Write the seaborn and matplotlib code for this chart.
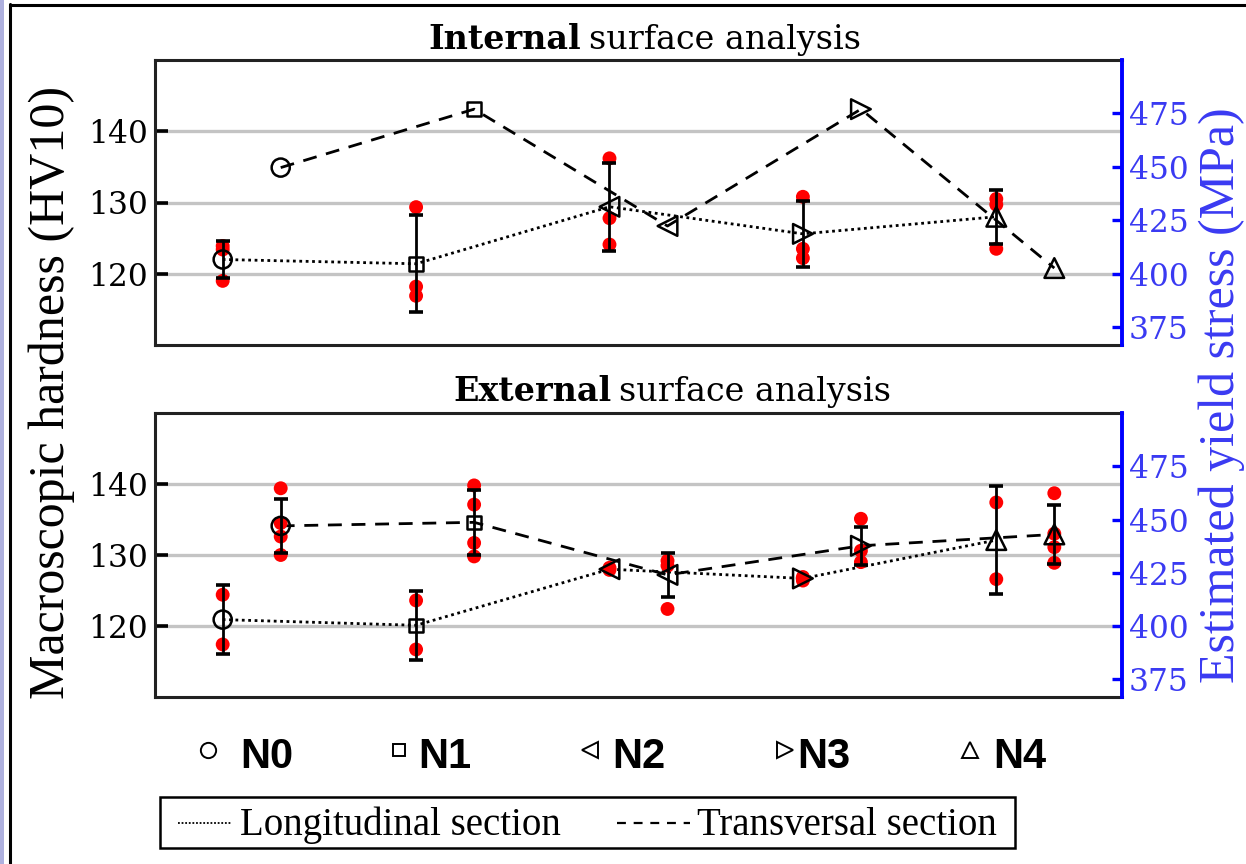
import numpy as np
import pandas as pd
import matplotlib
matplotlib.use("Agg")
import matplotlib.pyplot as plt
import seaborn as sns
from matplotlib.lines import Line2D
from matplotlib.patches import Rectangle

# ---------------- data ----------------
categories = ["N0", "N1", "N2", "N3", "N4"]
marker_shapes = ["o", "s", "<", ">", "^"]
hv_ticks = [120, 130, 140]
mpa_ticks = [375, 400, 425, 450, 475]

# Internal surface
int_long_mean = [122.0, 121.4, 129.4, 125.6, 128.0]
int_long_err = [2.65, 6.8, 6.15, 4.6, 3.8]
int_long_dots = [[123.9, 123.4, 119.0], [129.35, 118.2, 116.9], [136.2, 127.8, 124.1],
                 [130.8, 123.5, 122.2], [130.5, 129.7, 123.5]]
int_trans_mean = [134.9, 143.1, 126.7, 143.1, 120.8]

# External surface
ext_long_mean = [120.9, 120.1, 128.0, 126.7, 132.1]
ext_long_err = [4.9, 4.85, np.nan, np.nan, 7.55]
ext_long_dots = [[124.4, 117.4], [123.6, 116.7], [128.2, 127.9], [126.9, 126.4], [137.4, 126.6]]
ext_trans_mean = [134.1, 134.6, 127.2, 131.3, 132.9]
ext_trans_err = [3.85, 4.6, 3.15, 2.7, 4.1]
ext_trans_dots = [[139.4, 134.5, 132.6, 130.0], [139.8, 137.1, 131.7, 129.8], [129.2, 128.5, 122.4],
                  [135.1, 130.6, 129.0], [138.7, 133.0, 131.1, 128.9]]

# ---------------- style ----------------
sns.set_theme(style="white")
plt.rcParams["font.family"] = ["DejaVu Serif"]
plt.rcParams["text.color"] = "black"
plt.rcParams["ytick.color"] = "black"
plt.rcParams["axes.labelcolor"] = "black"

W, H = 1246, 864
fig = plt.figure(figsize=(W / 100, H / 100), dpi=100)
fig.patch.set_facecolor("white")

BLUE = "#0000ff"
TBLUE = "#3a3af2"
mk_map = dict(zip(categories, marker_shapes))
size_map = {"N0": 170, "N1": 95, "N2": 200, "N3": 200, "N4": 200}

LONG_LS = (0, (1, 1.3))
TRANS_LS = (0, (5, 3.5))
LABEL_FAM = ["Liberation Serif", "DejaVu Serif"]


def draw_panel(ax, long_mean, long_err, long_dots, trans_mean, trans_err, trans_dots):
    xl = np.arange(len(categories), dtype=float)
    xt = xl + 0.3
    # lines
    sns.lineplot(x=xl, y=long_mean, ax=ax, color="black", lw=2.0, linestyle=LONG_LS,
                 sort=False, estimator=None, zorder=2)
    sns.lineplot(x=xt, y=trans_mean, ax=ax, color="black", lw=2.0, linestyle=TRANS_LS,
                 sort=False, estimator=None, zorder=2)
    # red measurement dots
    rows = []
    for i, d in enumerate(long_dots or []):
        for v in d:
            rows.append((xl[i], v))
    for i, d in enumerate(trans_dots or []):
        for v in d:
            rows.append((xt[i], v))
    if rows:
        dd = pd.DataFrame(rows, columns=["x", "y"])
        sns.scatterplot(data=dd, x="x", y="y", ax=ax, color="#ff0000", s=100,
                        edgecolor="none", linewidth=0, zorder=3, legend=False)
    # error bars
    for xs, m, e in ((xl, long_mean, long_err), (xt, trans_mean, trans_err)):
        if e is None:
            continue
        e = np.asarray(e, dtype=float)
        ok = ~np.isnan(e)
        ax.errorbar(np.asarray(xs)[ok], np.asarray(m)[ok], yerr=e[ok], fmt="none",
                    ecolor="black", elinewidth=2.0, capsize=5, capthick=2.6, zorder=4)
    # open markers
    mdf = pd.DataFrame({"x": np.concatenate([xl, xt]),
                        "y": list(long_mean) + list(trans_mean),
                        "cat": categories + categories})
    sns.scatterplot(data=mdf, x="x", y="y", style="cat", markers=mk_map, size="cat",
                    sizes=size_map, ax=ax, legend=False, zorder=5, linewidth=1.8,
                    edgecolor="black", color="black")
    coll = ax.collections[-1]
    coll.set_facecolor("none")
    coll.set_edgecolor("black")
    coll.set_linewidth(1.8)

    ax.set_xlim(-0.35, 4.65)
    ax.set_ylim(110, 150)
    ax.set_yticks(hv_ticks)
    ax.set_xticks([])
    ax.set_xlabel("")
    ax.set_ylabel("")
    ax.grid(axis="y", color="#c4c4c4", lw=2.4, zorder=0)
    ax.set_axisbelow(True)
    ax.tick_params(axis="y", direction="in", length=9, width=2.6, color="black",
                   labelcolor="black", labelsize=22.5, pad=5, left=True)
    for s in ["left", "top", "bottom", "right"]:
        ax.spines[s].set_color("#222222")
        ax.spines[s].set_linewidth(2.2)
    ax.spines["right"].set_visible(False)

    ax2 = ax.twinx()
    ax2.set_ylim(110 * 10 / 3, 150 * 10 / 3)
    ax2.set_yticks(mpa_ticks)
    ax2.tick_params(axis="y", direction="in", length=7, width=2.4, color=BLUE,
                    labelcolor=TBLUE, labelsize=22.5, pad=5)
    for s in ["left", "top", "bottom"]:
        ax2.spines[s].set_visible(False)
    ax2.spines["right"].set_color(BLUE)
    ax2.spines["right"].set_linewidth(2.8)
    ax2.grid(False)
    return ax2


ax_top = fig.add_axes([155 / W, 1 - 345 / H, (1122 - 155) / W, (345 - 60) / H])
ax_bot = fig.add_axes([155 / W, 1 - 697 / H, (1122 - 155) / W, (697 - 413) / H])

draw_panel(ax_top, int_long_mean, int_long_err, int_long_dots, int_trans_mean, None, None)
draw_panel(ax_bot, ext_long_mean, ext_long_err, ext_long_dots, ext_trans_mean, ext_trans_err,
           ext_trans_dots)

# ---------------- titles ----------------
fig.canvas.draw()
renderer = fig.canvas.get_renderer()


def two_part_title(x_px, base_px, bold_part, rest, size):
    t1 = fig.text(x_px / W, 1 - base_px / H, bold_part, fontsize=size, fontweight="bold",
                  family=["DejaVu Serif"], ha="left", va="baseline", color="black")
    bb = t1.get_window_extent(renderer)
    fig.text((bb.x1 + 8) / W, 1 - base_px / H, rest, fontsize=size,
             family=["DejaVu Serif"], ha="left", va="baseline", color="black")


two_part_title(428, 49, "Internal", "surface analysis", 24)
two_part_title(453, 401, "External", "surface analysis", 24)

# ---------------- axis labels ----------------
fig.text(52 / W, 1 - 392 / H, "Macroscopic hardness (HV10)", rotation=90, ha="center",
         va="center", fontsize=36, family=LABEL_FAM, color="black")
fig.text(1222 / W, 1 - 395 / H, "Estimated yield stress (MPa)", rotation=90, ha="center",
         va="center", fontsize=36, color=TBLUE, family=LABEL_FAM)

# ---------------- marker legend row ----------------
mk_x = [208, 399, 590, 785, 970]
txt_x = [240, 418, 612, 797, 993]
for c, m, mx, tx in zip(categories, marker_shapes, mk_x, txt_x):
    fig.add_artist(Line2D([mx / W], [1 - 750 / H], transform=fig.transFigure, marker=m,
                          markersize=11 if m != "s" else 9, markerfacecolor="none",
                          markeredgecolor="black", markeredgewidth=1.4, linestyle="none"))
    fig.text(tx / W, 1 - 768 / H, c, fontsize=30, fontweight="bold", ha="left", va="baseline",
             family=["Liberation Sans", "DejaVu Sans"], color="black")

# ---------------- line legend box ----------------
fig.add_artist(Rectangle((160 / W, 1 - 848 / H), (1015 - 160) / W, (848 - 797) / H,
                         transform=fig.transFigure, fill=False, edgecolor="black", lw=1.8))
fig.add_artist(Line2D([178 / W, 232 / W], [1 - 823 / H] * 2, transform=fig.transFigure,
                      color="black", lw=1.3, linestyle=(0, (1, 1))))
fig.add_artist(Line2D([617 / W, 690 / W], [1 - 823 / H] * 2, transform=fig.transFigure,
                      color="black", lw=1.6, linestyle=(0, (4, 3.5))))
fig.text(240 / W, 1 - 835 / H, "Longitudinal section", fontsize=28, ha="left", va="baseline",
         family=LABEL_FAM, color="black")
fig.text(697 / W, 1 - 835 / H, "Transversal section", fontsize=28, ha="left", va="baseline",
         family=LABEL_FAM, color="black")

# ---------------- figure frame ----------------
fig.add_artist(Rectangle((0, 0), 4 / W, 1, transform=fig.transFigure, color="#aeb0de", lw=0))
fig.add_artist(Line2D([10 / W, 10 / W], [0, 1 - 4 / H], transform=fig.transFigure,
                      color="black", lw=2.2))
fig.add_artist(Line2D([10 / W, 1], [1 - 4.5 / H] * 2, transform=fig.transFigure,
                      color="black", lw=2.2))

fig.savefig("out.png", dpi=100)
